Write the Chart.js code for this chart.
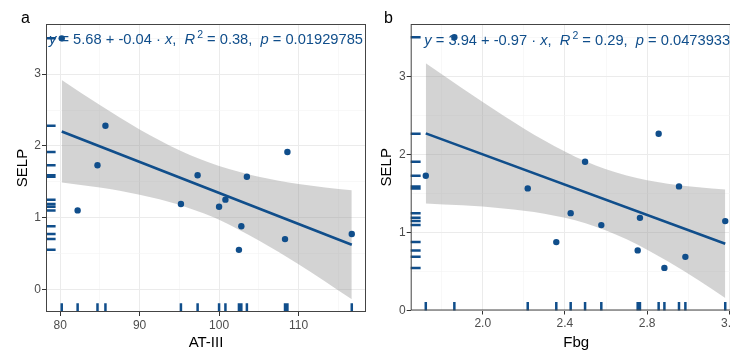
<!DOCTYPE html>
<html>
<head>
<meta charset="utf-8">
<title>SELP vs AT-III and Fbg</title>
<script src="https://cdn.jsdelivr.net/npm/chart.js@4.4.1/dist/chart.umd.min.js"></script>
<style>
  html, body { margin: 0; padding: 0; background: #fff; overflow: hidden; }
  #wrap { position: relative; width: 730px; height: 352px; overflow: hidden; }
  canvas { position: absolute; top: 0; }
  #panelA { left: 0; }
  #panelB { left: 370px; }
</style>
</head>
<body>
<div id="wrap">
  <canvas id="panelA" width="370" height="352"></canvas>
  <canvas id="panelB" width="400" height="352"></canvas>
</div>
<script>
// panel a: AT-III vs SELP
const atIII = [80.2, 82.2, 84.7, 85.7, 95.2, 97.3, 100.0, 100.8, 102.5, 102.8, 103.5, 108.3, 108.6, 116.7];
const selpA = [3.50, 1.10, 1.73, 2.28, 1.19, 1.59, 1.15, 1.25, 0.55, 0.88, 1.57, 0.70, 1.915, 0.77];
const fitXA = [80.2, 116.7];
const fitYA = [2.20, 0.62];
const bandXA = [80.2, 85, 90, 95, 97.5, 100, 105, 110, 116.7];
const bandHiA = [2.92, 2.57, 2.23, 1.94, 1.82, 1.72, 1.57, 1.47, 1.38];
const bandLoA = [1.49, 1.42, 1.32, 1.18, 1.08, 0.97, 0.68, 0.35, -0.14];

// panel b: Fbg vs SELP
const fbg = [1.723, 1.862, 2.219, 2.358, 2.428, 2.498, 2.577, 2.754, 2.765, 2.856, 2.884, 2.955, 2.986, 3.18];
const selpB = [1.726, 3.50, 1.564, 0.876, 1.247, 1.905, 1.094, 0.77, 1.187, 2.264, 0.546, 1.59, 0.687, 1.145];
const fitXB = [1.723, 3.18];
const fitYB = [2.269, 0.855];
const bandXB = [1.723, 1.9, 2.1, 2.3, 2.5, 2.7, 2.9, 3.05, 3.18];
const bandHiB = [3.167, 2.847, 2.499, 2.178, 1.911, 1.728, 1.624, 1.578, 1.549];
const bandLoB = [1.371, 1.347, 1.307, 1.240, 1.119, 0.914, 0.630, 0.386, 0.161];

// ticks
const xMajorA = [80, 90, 100, 110];
const xMinorA = [85, 95, 105, 115];
const xMajorB = [2.0, 2.4, 2.8, 3.2];
const xMinorB = [1.8, 2.2, 2.6, 3.0];
const yMajor = [0, 1, 2, 3];
const yMinor = [0.5, 1.5, 2.5, 3.5];

const eqA = [['y', 'i'], [' = 5.68 + -0.04 \u00b7 '], ['x', 'i'], [',  '], ['R', 'i'], ['2', 's'], [' = 0.38,  '], ['p', 'i'], [' = 0.01929785']];
const eqB = [['y', 'i'], [' = 3.94 + -0.97 \u00b7 '], ['x', 'i'], [',  '], ['R', 'i'], ['2', 's'], [' = 0.29,  '], ['p', 'i'], [' = 0.04739339']];

const BLUE = '#104E8B';
const FONT = '"Liberation Sans", Arial, sans-serif';
Chart.defaults.font.family = FONT;

const pts = (xs, ys) => xs.map((v, i) => ({ x: v, y: ys[i] }));

// rug marks, panel border, regression label and panel letter
const panelDeco = {
  id: 'panelDeco',
  afterDatasetsDraw(chart, args, o) {
    const { ctx, chartArea: a, scales: { x, y } } = chart;
    ctx.save();
    ctx.strokeStyle = BLUE;
    ctx.lineWidth = 2.5;
    const lenV = (a.bottom - a.top) * 0.03, lenH = (a.right - a.left) * 0.03;
    ctx.beginPath();
    o.xs.forEach(v => {
      const px = x.getPixelForValue(v);
      ctx.moveTo(px, a.bottom);
      ctx.lineTo(px, a.bottom - lenV);
    });
    o.ys.forEach(v => {
      const py = y.getPixelForValue(v);
      ctx.moveTo(a.left, py);
      ctx.lineTo(a.left + lenH, py);
    });
    ctx.stroke();

    ctx.strokeStyle = '#444';
    ctx.lineWidth = 1;
    ctx.strokeRect(a.left + 0.5, a.top + 0.5, a.right - a.left - 1, a.bottom - a.top - 1);

    // equation
    ctx.fillStyle = BLUE;
    ctx.textBaseline = 'alphabetic';
    let tx = a.left + o.eqDx;
    const ty = a.top + o.eqDy;
    o.eq.forEach(([t, st]) => {
      const sup = st === 's';
      ctx.font = (st === 'i' ? 'italic ' : '') + (sup ? '10.5px ' : '14.7px ') + FONT;
      if (sup) tx += 2;
      ctx.fillText(t, tx, sup ? ty - 6.5 : ty);
      tx += ctx.measureText(t).width;
    });

    ctx.fillStyle = '#000';
    ctx.font = '16px ' + FONT;
    ctx.fillText(o.label, o.labelX, 22.5);
    ctx.restore();
  }
};

function axis(min, max, major, minor, fmt, title, size, horiz, titlePad) {
  return {
    type: 'linear',
    min: min,
    max: max,
    afterBuildTicks: s => {
      s.ticks = major.map(v => ({ value: v }))
        .concat(minor.map(v => ({ value: v, minor: true })))
        .sort((p, q) => p.value - q.value);
    },
    afterFit: s => {
      if (horiz) s.height = size; else s.width = size;
    },
    border: { display: false },
    grid: {
      color: c => (c.tick && c.tick.minor ? '#F3F3F3' : '#EBEBEB'),
      lineWidth: c => (c.tick && c.tick.minor ? 0.6 : 1),
      tickColor: c => (c.tick && c.tick.minor ? 'rgba(0,0,0,0)' : '#333'),
      tickLength: 4
    },
    ticks: {
      autoSkip: false,
      maxRotation: 0,
      color: '#4D4D4D',
      font: { size: 12 },
      padding: horiz ? 2 : 1,
      callback: (v, i, ticks) => (ticks[i].minor ? '' : fmt(v))
    },
    title: {
      display: true,
      text: title,
      color: '#000',
      font: { size: 15 },
      padding: titlePad
    }
  };
}

function makePanel(id, d) {
  return new Chart(document.getElementById(id), {
    type: 'scatter',
    data: {
      datasets: [
        {
          data: pts(d.x, d.y),
          backgroundColor: BLUE,
          borderWidth: 0,
          pointRadius: 3.2,
          order: 0
        },
        {
          data: pts(d.fitX, d.fitY),
          showLine: true,
          borderColor: BLUE,
          borderWidth: 2.6,
          pointRadius: 0,
          order: 1
        },
        {
          data: pts(d.bandX, d.bandHi),
          showLine: true,
          fill: '+1',
          backgroundColor: 'rgba(150,150,150,0.42)',
          borderColor: 'rgba(0,0,0,0)',
          borderWidth: 0,
          pointRadius: 0,
          cubicInterpolationMode: 'monotone',
          order: 2
        },
        {
          data: pts(d.bandX, d.bandLo),
          showLine: true,
          fill: false,
          borderColor: 'rgba(0,0,0,0)',
          borderWidth: 0,
          pointRadius: 0,
          cubicInterpolationMode: 'monotone',
          order: 3
        }
      ]
    },
    options: {
      responsive: false,
      animation: false,
      devicePixelRatio: 1,
      events: [],
      layout: { padding: d.pad },
      plugins: {
        legend: { display: false },
        tooltip: { enabled: false },
        panelDeco: d.deco
      },
      scales: {
        x: axis(d.xMin, d.xMax, d.xMajor, d.xMinor, d.xFmt, d.xTitle, d.xAxisH, true, { top: 0, bottom: 0.5 }),
        y: axis(d.yMin, d.yMax, yMajor, yMinor, v => String(v), 'SELP', d.yAxisW, false, { top: d.yTitlePad, bottom: 0 })
      }
    },
    plugins: [panelDeco]
  });
}

makePanel('panelA', {
  x: atIII, y: selpA, fitX: fitXA, fitY: fitYA,
  bandX: bandXA, bandHi: bandHiA, bandLo: bandLoA,
  xMin: 78.22, xMax: 118.49, yMin: -0.317, yMax: 3.70,
  xMajor: xMajorA, xMinor: xMinorA, xFmt: v => String(v), xTitle: 'AT-III',
  xAxisH: 40, yAxisW: 46, yTitlePad: 14,
  pad: { left: 0, top: 24, right: 1, bottom: 0 },
  deco: { xs: atIII, ys: selpA, eq: eqA, eqDx: 3, eqDy: 20, label: 'a', labelX: 21 }
});

makePanel('panelB', {
  x: fbg, y: selpB, fitX: fitXB, fitY: fitYB,
  bandX: bandXB, bandHi: bandHiB, bandLo: bandLoB,
  xMin: 1.6496, xMax: 3.2596, yMin: 0, yMax: 3.67,
  xMajor: xMajorB, xMinor: xMinorB, xFmt: v => v.toFixed(1), xTitle: 'Fbg',
  xAxisH: 41.5, yAxisW: 40.7, yTitlePad: 8,
  pad: { left: 0, top: 24, right: 28.4, bottom: 0 },
  deco: { xs: fbg, ys: selpB, eq: eqB, eqDx: 13.6, eqDy: 21, label: 'b', labelX: 14 }
});
</script>
</body>
</html>
